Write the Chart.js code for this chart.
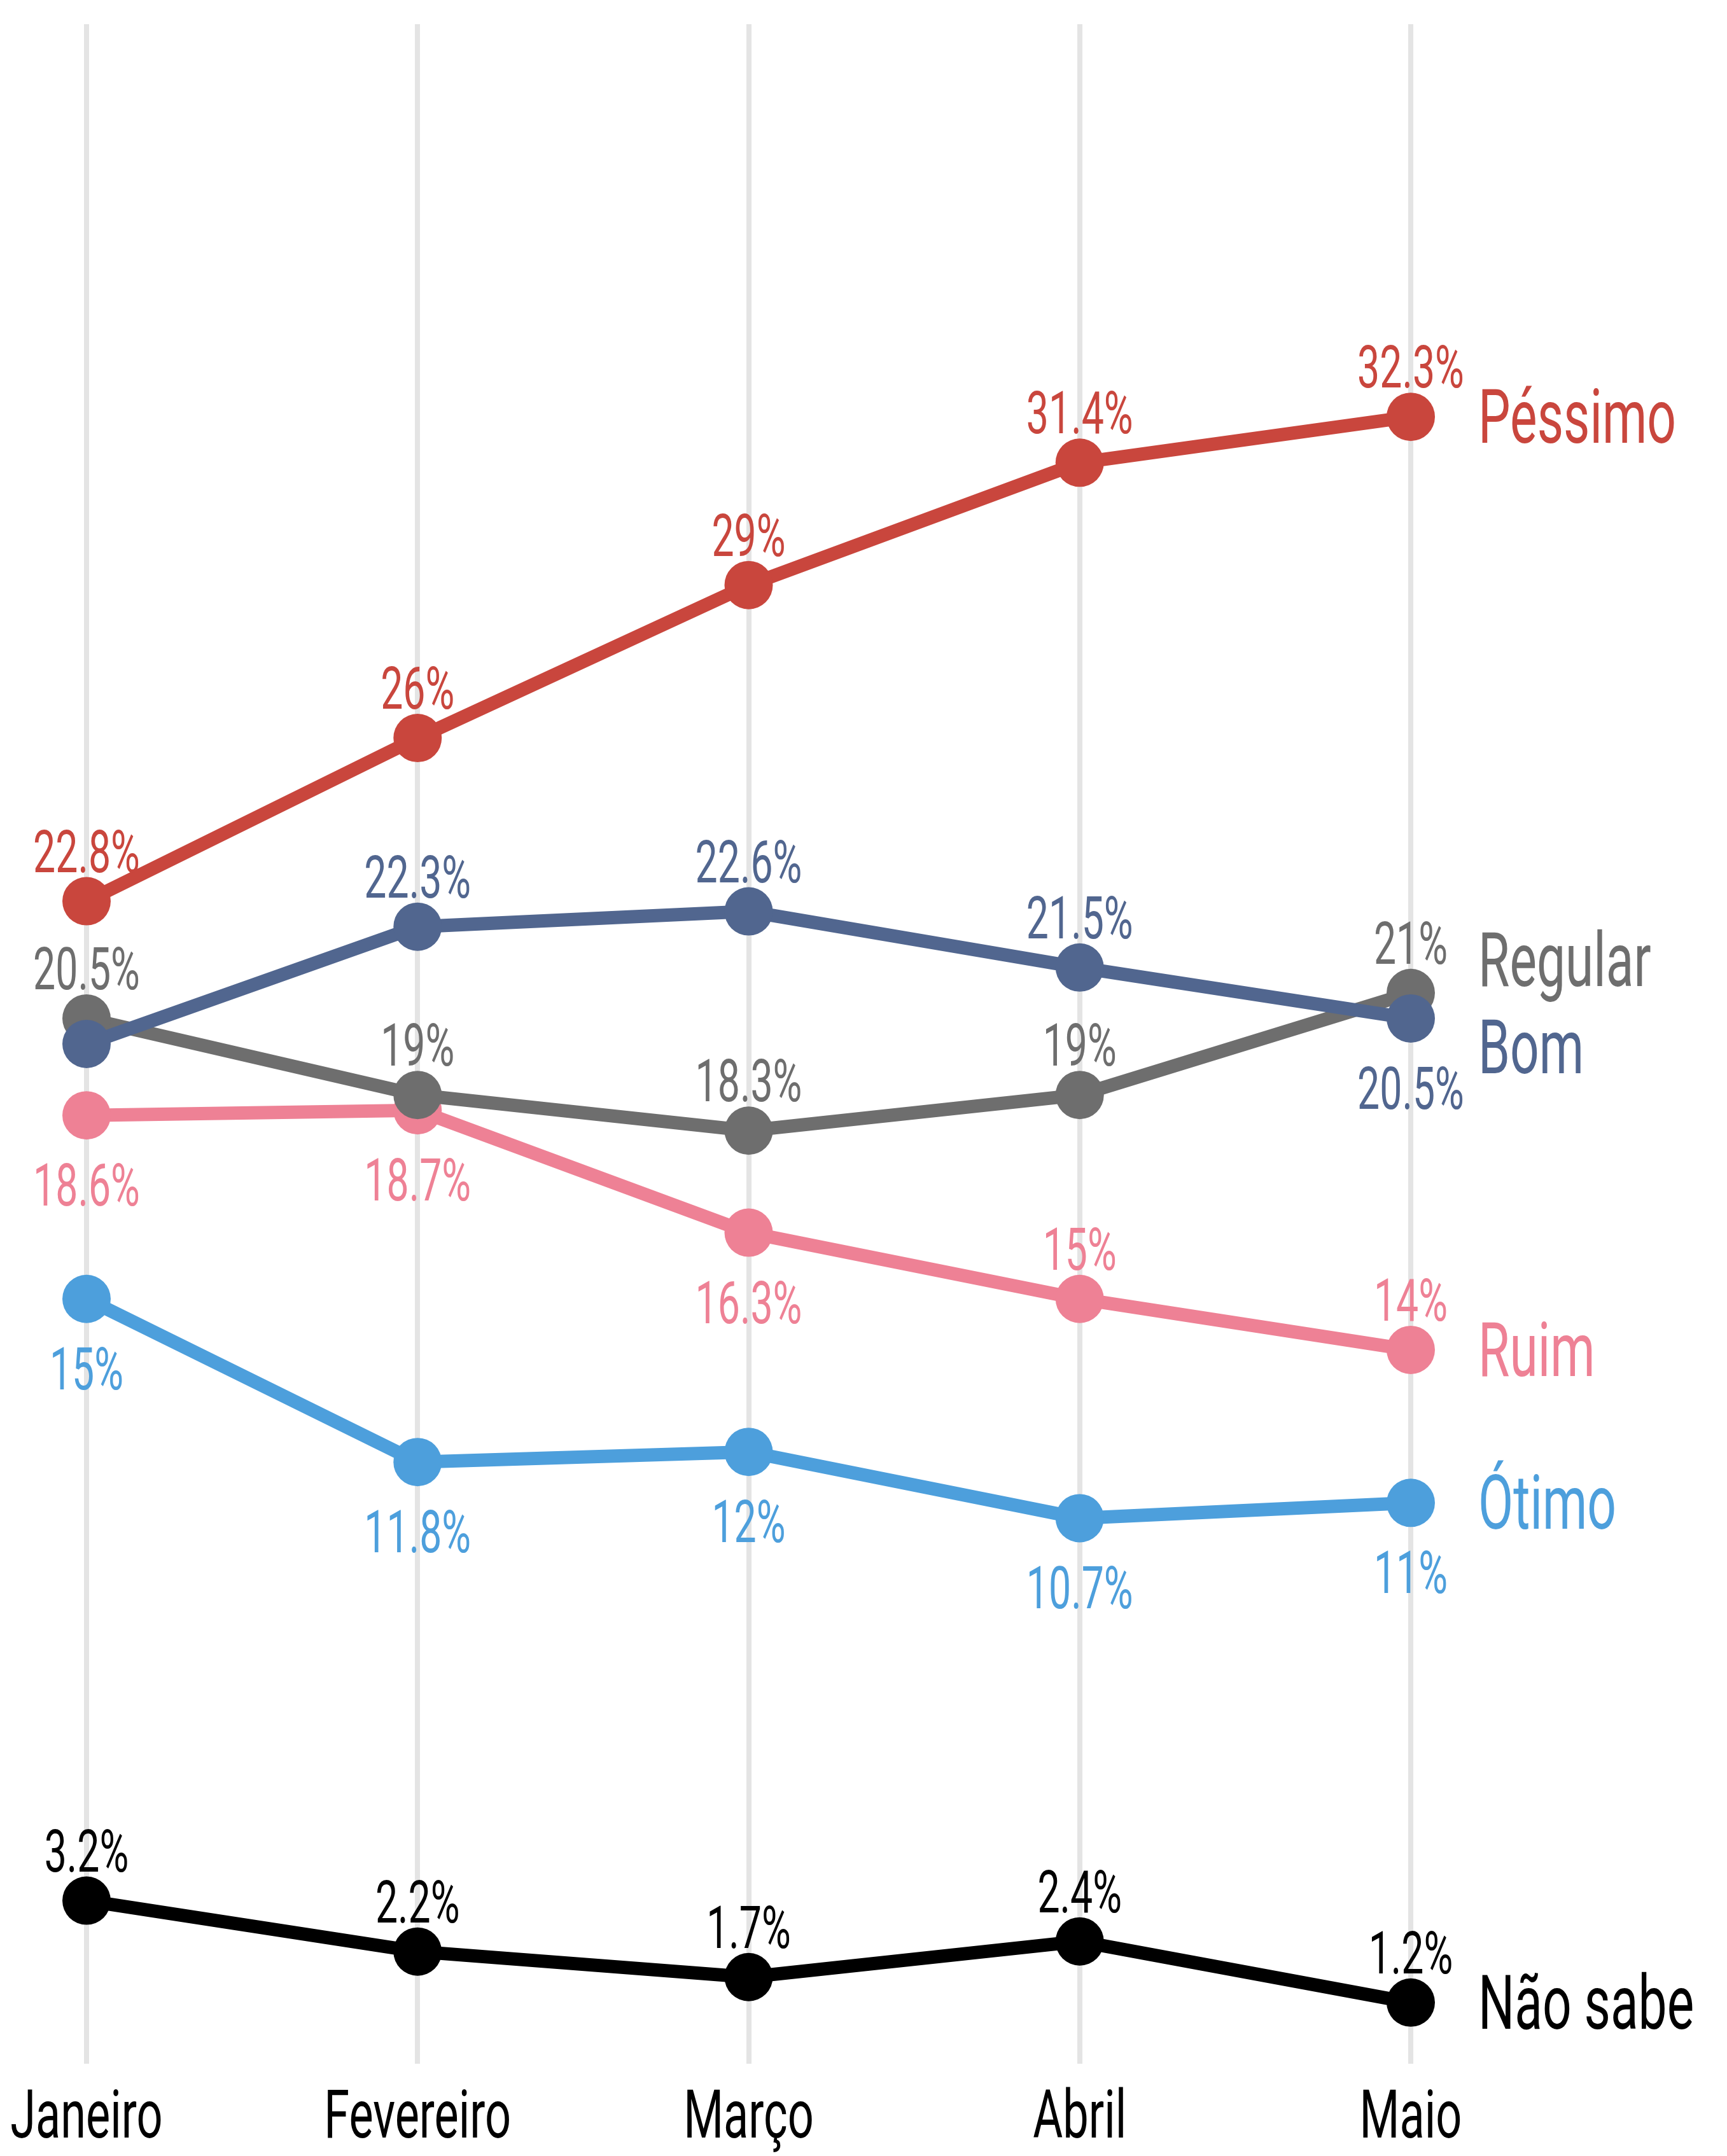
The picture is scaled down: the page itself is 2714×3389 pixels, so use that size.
<!DOCTYPE html>
<html>
<head>
<meta charset="utf-8">
<script src="https://cdn.jsdelivr.net/npm/chart.js@4.4.1/dist/chart.umd.min.js"></script>
<style>
    html, body { margin: 0; padding: 0; background: #ffffff; }
    #wrap { width: 2714px; height: 3389px; }
</style>
</head>
<body>
<div id="wrap"><canvas id="chart" width="2714" height="3389"></canvas></div>
<script>
// 월별 평가 데이터 (%)
const months = ['Janeiro', 'Fevereiro', 'Março', 'Abril', 'Maio'];
const pessimo = [22.8, 26, 29, 31.4, 32.3];
const bom = [20.0, 22.3, 22.6, 21.5, 20.5];
const regular = [20.5, 19, 18.3, 19, 21];
const ruim = [18.6, 18.7, 16.3, 15, 14];
const otimo = [15, 11.8, 12, 10.7, 11];
const naoSabe = [3.2, 2.2, 1.7, 2.4, 1.2];
const seriesNames = ['Péssimo', 'Bom', 'Regular', 'Ruim', 'Ótimo', 'Não sabe'];

// 스타일 (색상, 라벨 위치)
const seriesStyle = [
    { color: '#c9463d', side: ['up', 'up', 'up', 'up', 'up'], nameNudge: 0 },
    { color: '#51668f', side: [null, 'up', 'up', 'up', 'down'], nameNudge: 45 },
    { color: '#6e6e6e', side: ['up', 'up', 'up', 'up', 'up'], nameNudge: -52 },
    { color: '#ee8195', side: ['down', 'down', 'down', 'up', 'up'], nameNudge: 0 },
    { color: '#4d9fdc', side: ['down', 'down', 'down', 'down', 'down'], nameNudge: 0 },
    { color: '#000000', side: ['up', 'up', 'up', 'up', 'up'], nameNudge: 0 }
];
const seriesValues = [pessimo, bom, regular, ruim, otimo, naoSabe];

const FONT = 'Roboto, "Open Sans", sans-serif';
const SQUEEZE = 0.68; // 좁은 글꼴 흉내

function drawText(ctx, text, x, y, size, color, align) {
    ctx.save();
    ctx.translate(x, y);
    ctx.scale(SQUEEZE, 1);
    ctx.font = size + 'px ' + FONT;
    ctx.fillStyle = color;
    ctx.textAlign = align;
    ctx.textBaseline = 'alphabetic';
    ctx.fillText(text, 0, 0);
    ctx.restore();
}

function fmt(v) {
    return (Math.round(v * 10) / 10) + '%';
}

const labelPlugin = {
    id: 'labels',
    afterDatasetsDraw: chart => {
        const ctx = chart.ctx;
        chart.data.datasets.forEach((ds, i) => {
            const meta = chart.getDatasetMeta(i);
            const st = seriesStyle[i];
            meta.data.forEach((pt, j) => {
                const side = st.side[j];
                if (!side) return;
                const y = side === 'up' ? pt.y - 46 : pt.y + 142;
                drawText(ctx, fmt(ds.data[j]), pt.x, y, 92, st.color, 'center');
            });
            // 오른쪽 시리즈 이름
            const last = meta.data[meta.data.length - 1];
            drawText(ctx, seriesNames[i], 2323, last.y + st.nameNudge + 41, 118, st.color, 'left');
        });
    },
    afterDraw: chart => {
        const xScale = chart.scales.x;
        months.forEach((m, j) => {
            drawText(chart.ctx, m, xScale.getPixelForValue(j), 3360, 106, '#000000', 'center');
        });
    }
};

const ctx = document.getElementById('chart').getContext('2d');
new Chart(ctx, {
    type: 'line',
    data: {
        labels: months,
        datasets: seriesValues.map((vals, i) => ({
            label: seriesNames[i],
            data: vals,
            borderColor: seriesStyle[i].color,
            backgroundColor: seriesStyle[i].color,
            pointBackgroundColor: seriesStyle[i].color,
            pointBorderWidth: 0,
            pointRadius: 38,
            borderWidth: 21,
            tension: 0,
            fill: false,
            clip: false
        }))
    },
    options: {
        responsive: false,
        animation: false,
        layout: { padding: { left: 136, right: 497, top: 32, bottom: 145 } },
        plugins: {
            legend: { display: false },
            tooltip: { enabled: false }
        },
        scales: {
            x: {
                grid: { color: '#e4e4e4', lineWidth: 8, drawTicks: false },
                border: { display: false },
                ticks: { display: false }
            },
            y: {
                display: false,
                min: 0,
                max: 40
            }
        }
    },
    plugins: [labelPlugin]
});
</script>
</body>
</html>
